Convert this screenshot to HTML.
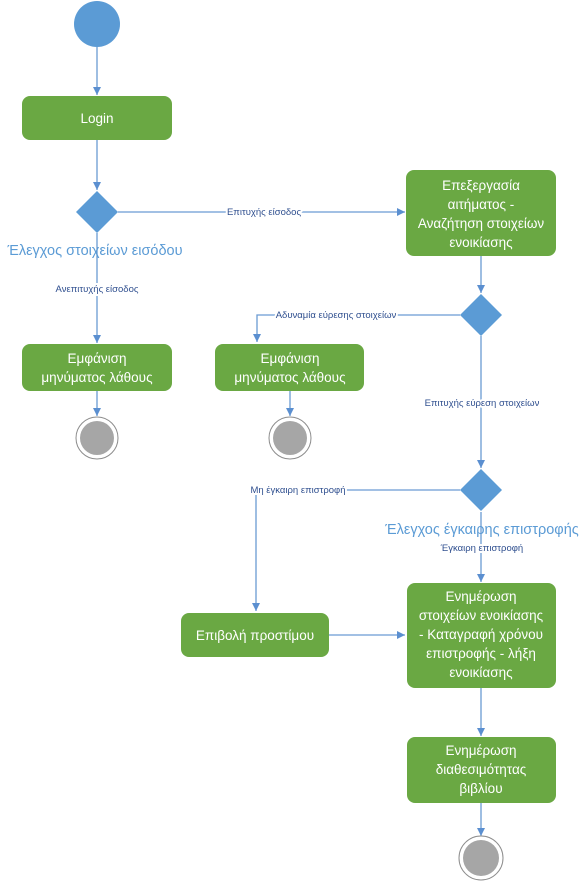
<!DOCTYPE html>
<html><head><meta charset="utf-8">
<style>
html,body{margin:0;padding:0;background:#fff;}
svg{display:block;}
text{font-family:"Liberation Sans","DejaVu Sans",sans-serif;}
.el{paint-order:stroke;stroke:#fff;stroke-width:4px;}
</style></head>
<body>
<svg width="587" height="883" viewBox="0 0 587 883" xmlns="http://www.w3.org/2000/svg">
<defs>
<marker id="a" markerWidth="10" markerHeight="10" refX="9" refY="5" orient="auto" markerUnits="userSpaceOnUse">
<path d="M1,1 L9,5 L1,9 Z" fill="#5b8fd0"/>
</marker>
</defs>
<g stroke="#6a9bd3" stroke-width="1.3" fill="none">
<line x1="97" y1="47" x2="97" y2="95" marker-end="url(#a)"/>
<line x1="97" y1="140" x2="97" y2="190" marker-end="url(#a)"/>
<line x1="118" y1="212" x2="405" y2="212" marker-end="url(#a)"/>
<line x1="97" y1="233" x2="97" y2="343" marker-end="url(#a)"/>
<line x1="97" y1="391" x2="97" y2="416" marker-end="url(#a)"/>
<line x1="481" y1="256" x2="481" y2="293" marker-end="url(#a)"/>
<polyline points="460,315 257,315 257,342" marker-end="url(#a)"/>
<line x1="290" y1="391" x2="290" y2="416" marker-end="url(#a)"/>
<line x1="481" y1="336" x2="481" y2="468" marker-end="url(#a)"/>
<polyline points="460,490 256,490 256,611" marker-end="url(#a)"/>
<line x1="481" y1="512" x2="481" y2="582" marker-end="url(#a)"/>
<line x1="329" y1="635" x2="405" y2="635" marker-end="url(#a)"/>
<line x1="481" y1="688" x2="481" y2="736" marker-end="url(#a)"/>
<line x1="481" y1="803" x2="481" y2="836" marker-end="url(#a)"/>
</g>
<circle cx="97" cy="24" r="23" fill="#5b9bd5"/>
<g fill="#6aa843">
<rect x="22" y="96" width="150" height="44" rx="8"/>
<rect x="406" y="170" width="150" height="86" rx="8"/>
<rect x="22" y="344" width="150" height="47" rx="8"/>
<rect x="215" y="344" width="149" height="47" rx="8"/>
<rect x="181" y="613" width="148" height="44" rx="8"/>
<rect x="407" y="583" width="149" height="105" rx="8"/>
<rect x="407" y="737" width="149" height="66" rx="8"/>
</g>
<g fill="#5b9bd5">
<polygon points="97,191 118,212 97,233 76,212"/>
<polygon points="481,294 502,315 481,336 460,315"/>
<polygon points="481,469 502,490 481,511 460,490"/>
</g>
<g fill="#a6a6a6" stroke="#ffffff">
<circle cx="97" cy="438" r="21" fill="#fff" stroke="#8c8c8c" stroke-width="1"/>
<circle cx="97" cy="438" r="17" stroke="none"/>
<circle cx="290" cy="438" r="21" fill="#fff" stroke="#8c8c8c" stroke-width="1"/>
<circle cx="290" cy="438" r="17" stroke="none"/>
<circle cx="481" cy="858" r="22" fill="#fff" stroke="#8c8c8c" stroke-width="1"/>
<circle cx="481" cy="858" r="18" stroke="none"/>
</g>
<g fill="#fff" font-size="13.5" text-anchor="middle">
<text x="97" y="123">Login</text>
<text x="481" y="190">Επεξεργασία</text>
<text x="481" y="209">αιτήματος -</text>
<text x="481" y="228">Αναζήτηση στοιχείων</text>
<text x="481" y="247">ενοικίασης</text>
<text x="97" y="363">Εμφάνιση</text>
<text x="97" y="382">μηνύματος λάθους</text>
<text x="290" y="363">Εμφάνιση</text>
<text x="290" y="382">μηνύματος λάθους</text>
<text x="255" y="640">Επιβολή προστίμου</text>
<text x="481" y="601">Ενημέρωση</text>
<text x="481" y="620">στοιχείων ενοικίασης</text>
<text x="481" y="639">- Καταγραφή χρόνου</text>
<text x="481" y="658">επιστροφής - λήξη</text>
<text x="481" y="677">ενοικίασης</text>
<text x="481" y="755">Ενημέρωση</text>
<text x="481" y="774">διαθεσιμότητας</text>
<text x="481" y="793">βιβλίου</text>
</g>
<g fill="#5b9bd5" font-size="14.5" text-anchor="middle">
<text x="95" y="255">Έλεγχος στοιχείων εισόδου</text>
<text x="482" y="534">Έλεγχος έγκαιρης επιστροφής</text>
</g>
<g font-size="9.5" fill="#2f4f8f" text-anchor="middle">
<text class="el" x="264" y="215">Επιτυχής είσοδος</text>
<text class="el" x="97" y="292">Ανεπιτυχής είσοδος</text>
<text class="el" x="336" y="318">Αδυναμία εύρεσης στοιχείων</text>
<text class="el" x="482" y="406">Επιτυχής εύρεση στοιχείων</text>
<text class="el" x="298" y="493">Μη έγκαιρη επιστροφή</text>
<text class="el" x="482" y="551">Έγκαιρη επιστροφή</text>
</g>
</svg>
</body></html>
